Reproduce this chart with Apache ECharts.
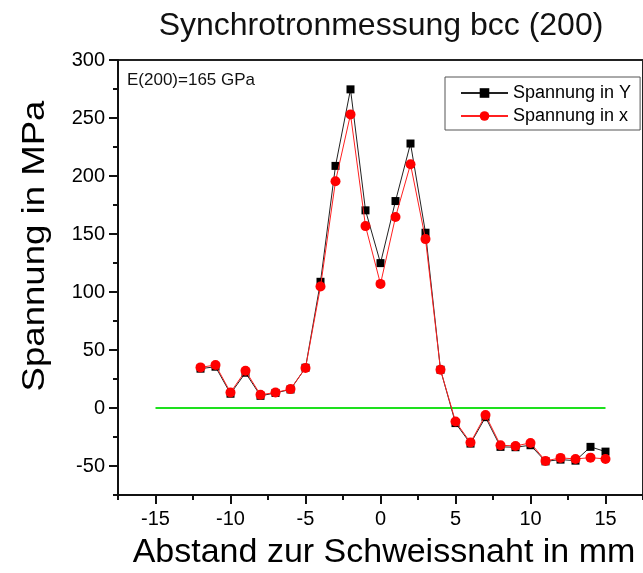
<!DOCTYPE html>
<html>
<head>
<meta charset="utf-8">
<script src="https://cdn.jsdelivr.net/npm/echarts@6/dist/echarts.min.js"></script>
<style>
  html, body { margin: 0; padding: 0; background: #fff; }
  #chart { width: 643px; height: 573px; }
</style>
</head>
<body>
<div id="chart"></div>
<script>
// Measurement positions relative to the weld seam (mm)
const positions = [-12, -11, -10, -9, -8, -7, -6, -5, -4, -3, -2, -1, 0, 1, 2, 3, 4, 5, 6, 7, 8, 9, 10, 11, 12, 13, 14, 15];
// Stress in Y direction (MPa)
const spannungY = [33.9, 35.6, 12.3, 30.4, 10.5, 13.0, 16.0, 34.7, 108.8, 208.7, 274.7, 170.4, 124.9, 178.4, 228.0, 151.1, 33.0, -13.0, -30.7, -7.9, -33.5, -33.8, -32.1, -46.0, -44.5, -45.4, -33.5, -37.6];
// Stress in x direction (MPa)
const spannungX = [35.0, 37.1, 13.4, 32.1, 11.4, 13.4, 16.3, 34.5, 104.7, 195.5, 253.1, 156.8, 107.0, 164.6, 210.1, 145.6, 33.0, -11.7, -29.8, -6.1, -32.1, -32.7, -30.1, -45.6, -43.0, -43.9, -42.8, -43.9];
// Zero reference line
const zeroLineX = [-15, 15];
const zeroLineY = [0, 0];
// Tick labels and tick positions
const xTickLabels = [-15, -10, -5, 0, 5, 10, 15];
const xMinorTicks = [-17.5, -12.5, -7.5, -2.5, 2.5, 7.5, 12.5, 17.5];
const yTickLabels = [-50, 0, 50, 100, 150, 200, 250, 300];
const yMinorTicks = [-75, -25, 25, 75, 125, 175, 225, 275];

const FONT = '"Liberation Sans", Arial, sans-serif';
const pair = (xs, ys) => xs.map((x, i) => [x, ys[i]]);

const chart = echarts.init(document.getElementById('chart'), null, { renderer: 'canvas' });

const baseX = {
  type: 'value', min: -17.5, max: 17.5, position: 'bottom',
  splitLine: { show: false }
};
const baseY = {
  type: 'value', min: -75, max: 300, position: 'left',
  splitLine: { show: false }
};

chart.setOption({
  animation: false,
  backgroundColor: '#fff',
  grid: {
    left: 118, top: 60, right: -11, bottom: 78,
    show: true, borderColor: '#222', borderWidth: 2
  },
  xAxis: [
    Object.assign({}, baseX, {
      axisLine: { show: true, onZero: false, lineStyle: { color: '#111', width: 2 } },
      axisTick: { show: true, inside: false, length: 9, customValues: xTickLabels, lineStyle: { color: '#111', width: 2 } },
      axisLabel: { show: true, customValues: xTickLabels, margin: 14, fontSize: 20, fontFamily: FONT, color: '#000' }
    }),
    Object.assign({}, baseX, {
      axisLine: { show: false, onZero: false },
      axisTick: { show: true, inside: false, length: 5, customValues: xMinorTicks, lineStyle: { color: '#111', width: 2 } },
      axisLabel: { show: false }
    })
  ],
  yAxis: [
    Object.assign({}, baseY, {
      axisLine: { show: true, onZero: false, lineStyle: { color: '#111', width: 2 } },
      axisTick: { show: true, inside: false, length: 9, customValues: yTickLabels, lineStyle: { color: '#111', width: 2 } },
      axisLabel: { show: true, customValues: yTickLabels, margin: 13, fontSize: 20, fontFamily: FONT, color: '#000' }
    }),
    Object.assign({}, baseY, {
      axisLine: { show: false, onZero: false },
      axisTick: { show: true, inside: false, length: 5, customValues: yMinorTicks, lineStyle: { color: '#111', width: 2 } },
      axisLabel: { show: false }
    })
  ],
  legend: {
    data: ['Spannung in Y', 'Spannung in x'],
    orient: 'vertical',
    left: 445, top: 77,
    padding: [7, 9, 5, 15],
    itemGap: 5,
    itemWidth: 47,
    itemHeight: 12,
    borderColor: '#555',
    borderWidth: 1,
    backgroundColor: '#fff',
    textStyle: { fontSize: 18, fontFamily: FONT, color: '#000' }
  },
  graphic: [
    {
      type: 'text', x: 381, y: 26,
      style: { text: 'Synchrotronmessung bcc (200)', font: '32px ' + FONT, fill: '#111', textAlign: 'center', textVerticalAlign: 'middle' }
    },
    {
      type: 'text', x: 35, y: 246, rotation: Math.PI / 2, scaleX: 1.18,
      style: { text: 'Spannung in MPa', font: '31px ' + FONT, fill: '#000', textAlign: 'center', textVerticalAlign: 'middle' }
    },
    {
      type: 'text', x: 384, y: 553,
      style: { text: 'Abstand zur Schweissnaht in mm', font: '34px ' + FONT, fill: '#000', textAlign: 'center', textVerticalAlign: 'middle' }
    },
    {
      type: 'text', x: 127, y: 80,
      style: { text: 'E(200)=165 GPa', font: '17px ' + FONT, fill: '#111', textAlign: 'left', textVerticalAlign: 'middle' }
    }
  ],
  series: [
    {
      name: 'zero',
      type: 'line',
      data: pair(zeroLineX, zeroLineY),
      symbol: 'none',
      silent: true,
      lineStyle: { color: '#1ee01e', width: 2 },
      z: 1
    },
    {
      name: 'Spannung in Y',
      type: 'line',
      data: pair(positions, spannungY),
      symbol: 'rect',
      symbolSize: 8,
      showAllSymbol: true,
      itemStyle: { color: '#000' },
      lineStyle: { color: '#222', width: 1 },
      z: 2
    },
    {
      name: 'Spannung in x',
      type: 'line',
      data: pair(positions, spannungX),
      symbol: 'circle',
      symbolSize: 10,
      showAllSymbol: true,
      itemStyle: { color: '#ff0000' },
      lineStyle: { color: '#ff2020', width: 1 },
      z: 3
    }
  ]
});
</script>
</body>
</html>
